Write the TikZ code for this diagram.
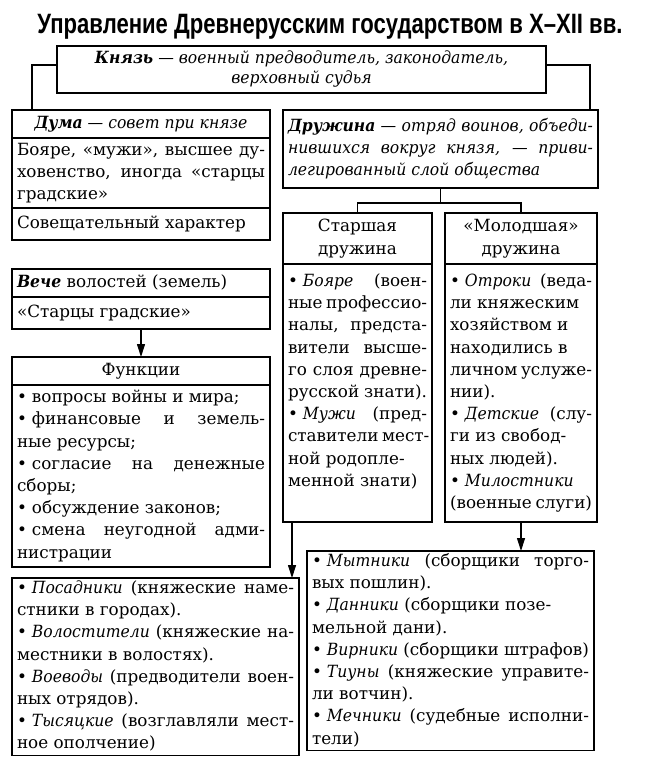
\documentclass[tikz,border=0pt]{standalone}
\usepackage{fontspec}
\usepackage{graphicx}
\setmainfont{DejaVu Serif}[ItalicFeatures={FakeStretch=0.93},BoldItalicFeatures={FakeStretch=0.93}]
\newfontfamily\titlefont{Liberation Sans}
\usetikzlibrary{arrows.meta}
\newcommand\bodyfont{\fontsize{16.8}{22.2}\selectfont}
\newcommand\tb[2]{\vbox{\hsize=#1\relax\lineskiplimit=-100pt\relax #2}}
\newcommand\JL[1]{\hbox to\hsize{\strut#1}}
\newcommand\LL[1]{\hbox to\hsize{\strut#1\hfil}}
\newcommand\CL[1]{\hbox to\hsize{\strut\hfil#1\hfil}}
\newcommand\bi[1]{\textbf{\textit{#1}}}
\newcommand\bu{•\hskip0.3em\relax}
\tikzset{
  sec/.style={draw, line width=1.1pt, anchor=north west, inner xsep=5pt, inner ysep=0pt, outer sep=0pt, font=\bodyfont},
  arr/.style={-{Triangle[length=13pt,width=8pt]}, line width=1.1pt},
  con/.style={line width=1.1pt}
}
\begin{document}
\begin{tikzpicture}[x=1pt,y=-1pt]
\useasboundingbox (0,0) rectangle (665,763);

\node[anchor=base] (title) at (330,33) {\resizebox{585pt}{\height}{\titlefont\bfseries\fontsize{28}{30}\selectfont Управление Древнерусским государством в X–XII вв.}};

\node[sec, minimum width=489pt, minimum height=47pt] (knyaz) at (57,46)
  {\fontsize{16.8}{20}\selectfont\tb{479pt}{\CL{\bi{Князь}\textit{ — военный предводитель, законодатель,}}\CL{\textit{верховный судья}}}};

% Duma
\node[sec, minimum width=258pt, minimum height=28pt] (dumah) at (12,110)
  {\tb{248pt}{\CL{\bi{Дума}\textit{ — совет при князе}}}};
\node[sec, minimum width=258pt, minimum height=70pt] (dumab) at (12,138)
  {\tb{248pt}{\JL{Бояре, «мужи», высшее ду-}\JL{ховенство, иногда «старцы}\LL{градские»}}};
\node[sec, minimum width=258pt, minimum height=32pt] (dumaf) at (12,208)
  {\tb{248pt}{\LL{Совещательный характер}}};

% Druzhina
\node[sec, minimum width=315pt, minimum height=78pt] (druzh) at (283,110)
  {\tb{305pt}{\JL{\bi{Дружина}\textit{ — отряд воинов, объеди-}}\JL{\textit{нившихся вокруг князя, — приви-}}\LL{\textit{легированный слой общества}}}};

\node[sec, minimum width=149pt, minimum height=51pt] (starh) at (283,213)
  {\tb{139pt}{\CL{Старшая}\CL{дружина}}};
\node[sec, minimum width=149pt, minimum height=258pt] (starb) at (283,264)
  {\tb{139pt}{\JL{\bu\textit{Бояре} (воен-}\JL{ные профессио-}\JL{налы, предста-}\JL{вители высше-}\JL{го слоя древне-}\JL{русской знати).}\JL{\bu\textit{Мужи} (пред-}\JL{ставители мест-}\LL{ной родопле-}\LL{менной знати)}\LL{}}};

\node[sec, minimum width=152pt, minimum height=51pt] (molh) at (445,213)
  {\tb{142pt}{\CL{«Молодшая»}\CL{дружина}}};
\node[sec, minimum width=152pt, minimum height=258pt] (molb) at (445,264)
  {\tb{142pt}{\JL{\bu\textit{Отроки} (веда-}\LL{ли княжеским}\LL{хозяйством и}\LL{находились в}\LL{личном услуже-}\LL{нии).}\JL{\bu\textit{Детские} (слу-}\LL{ги из свобод-}\LL{ных людей).}\LL{\bu\textit{Милостники}}\LL{(военные слуги)}}};

% Veche
\node[sec, minimum width=258pt, minimum height=28pt] (vecheh) at (12,269)
  {\tb{248pt}{\LL{\bi{Вече} волостей (земель)}}};
\node[sec, minimum width=258pt, minimum height=32pt] (vecheb) at (12,297)
  {\tb{248pt}{\LL{«Старцы градские»}}};

\node[sec, minimum width=258pt, minimum height=28pt] (funch) at (12,357)
  {\tb{248pt}{\CL{Функции}}};
\node[sec, minimum width=258pt, minimum height=182pt] (funcb) at (12,385)
  {\tb{248pt}{\LL{\bu вопросы войны и мира;}\JL{\bu финансовые и земель-}\LL{ные ресурсы;}\JL{\bu согласие на денежные}\LL{сборы;}\LL{\bu обсуждение законов;}\JL{\bu смена неугодной адми-}\LL{нистрации}}};

% bottom boxes
\node[sec, minimum width=287pt, minimum height=175pt] (bl) at (12,578)
  {\tb{277pt}{\JL{\bu\textit{Посадники} (княжеские наме-}\LL{стники в городах).}\JL{\bu\textit{Волостители} (княжеские на-}\LL{местники в волостях).}\JL{\bu\textit{Воеводы} (предводители воен-}\LL{ных отрядов).}\JL{\bu\textit{Тысяцкие} (возглавляли мест-}\LL{ное ополчение)}}};

\node[sec, minimum width=287pt, minimum height=197pt] (br) at (307,551)
  {\tb{277pt}{\JL{\bu\textit{Мытники} (сборщики торго-}\LL{вых пошлин).}\LL{\bu\textit{Данники} (сборщики позе-}\LL{мельной дани).}\JL{\bu\textit{Вирники} (сборщики штрафов)}\JL{\bu\textit{Тиуны} (княжеские управите-}\LL{ли вотчин).}\JL{\bu\textit{Мечники} (судебные исполни-}\LL{тели)}}};

% connectors
\draw[con] ([yshift=4.5pt]knyaz.west) -| ([xshift=20pt]dumah.north west);
\draw[con] ([yshift=4.5pt]knyaz.east) -| ([xshift=-8pt]druzh.north east);
\coordinate (fork) at ([yshift=-15pt]druzh.south);
\draw[con] (druzh.south) -- (fork);
\draw[con] (starh.north) |- (fork) -| (molh.north);
\draw[arr] (vecheb.south) -- (funch.north);
\coordinate (sa) at ([xshift=9pt]starb.south west);
\draw[arr] (sa) -- (sa |- bl.north);
\draw[arr] (molb.south) -- (molb.south |- br.north);
\end{tikzpicture}
\end{document}
